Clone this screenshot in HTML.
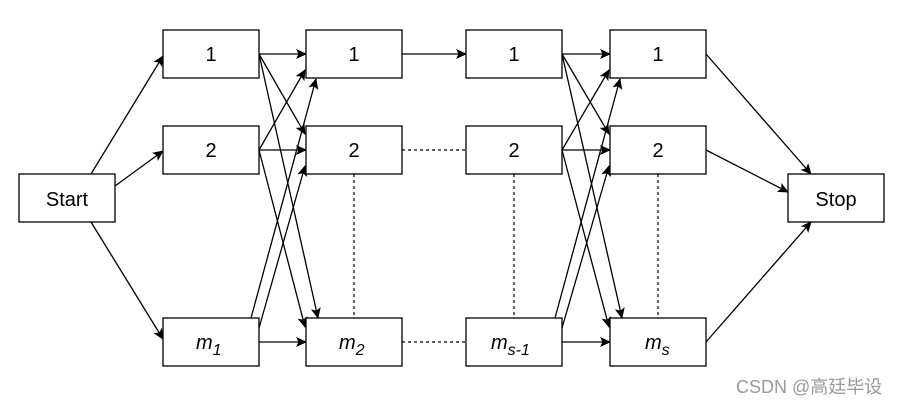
<!DOCTYPE html>
<html><head><meta charset="utf-8"><style>
html,body{margin:0;padding:0;background:#fff;}
svg{display:block;}
text{font-family:"Liberation Sans",Arial,sans-serif;font-size:20px;fill:#000;}
.i{font-style:italic;}
</style></head><body>
<svg width="902" height="403" viewBox="0 0 902 403" xmlns="http://www.w3.org/2000/svg">
<defs>
<marker id="a" markerWidth="11" markerHeight="11" refX="10" refY="5.5" orient="auto" markerUnits="userSpaceOnUse">
<path d="M0,0.5 L11,5.5 L0,10.5 L2.5,5.5 Z" fill="#000"/>
</marker>
</defs>
<g stroke="#000" stroke-width="1.3" fill="none" marker-end="url(#a)">
<line x1="91" y1="174" x2="163" y2="56"/>
<line x1="115" y1="186" x2="163" y2="151"/>
<line x1="91" y1="222" x2="163" y2="339"/>
<line x1="259" y1="54" x2="306" y2="54"/>
<line x1="259" y1="54" x2="305" y2="134"/>
<line x1="259" y1="54" x2="318" y2="318"/>
<line x1="259" y1="150" x2="306" y2="150"/>
<line x1="259" y1="150" x2="305" y2="70"/>
<line x1="259" y1="150" x2="305" y2="327"/>
<line x1="251" y1="318" x2="316" y2="79"/>
<line x1="259" y1="328" x2="305" y2="166"/>
<line x1="259" y1="342" x2="306" y2="342"/>
<line x1="402" y1="54" x2="466" y2="54"/>
<line x1="562" y1="54" x2="610" y2="54"/>
<line x1="562" y1="54" x2="609" y2="134"/>
<line x1="562" y1="54" x2="622" y2="318"/>
<line x1="562" y1="150" x2="610" y2="150"/>
<line x1="562" y1="150" x2="609" y2="70"/>
<line x1="562" y1="150" x2="609" y2="327"/>
<line x1="555" y1="318" x2="620" y2="79"/>
<line x1="562" y1="328" x2="609" y2="166"/>
<line x1="562" y1="342" x2="610" y2="342"/>
<line x1="706" y1="54" x2="811" y2="174"/>
<line x1="706" y1="150" x2="788" y2="192"/>
<line x1="706" y1="342" x2="811" y2="222"/>
</g>
<g stroke="#000" stroke-width="1.2" stroke-dasharray="3,3" fill="none">
<line x1="402" y1="150" x2="466" y2="150"/>
<line x1="402" y1="342" x2="466" y2="342"/>
<line x1="354" y1="174" x2="354" y2="318"/>
<line x1="514" y1="174" x2="514" y2="318"/>
<line x1="658" y1="174" x2="658" y2="318"/>
</g>
<g stroke="#000" stroke-width="1.3" fill="#fff">
<rect x="19" y="174" width="96" height="48"/>
<rect x="163" y="30" width="96" height="48"/>
<rect x="163" y="126" width="96" height="48"/>
<rect x="163" y="318" width="96" height="48"/>
<rect x="306" y="30" width="96" height="48"/>
<rect x="306" y="126" width="96" height="48"/>
<rect x="306" y="318" width="96" height="48"/>
<rect x="466" y="30" width="96" height="48"/>
<rect x="466" y="126" width="96" height="48"/>
<rect x="466" y="318" width="96" height="48"/>
<rect x="610" y="30" width="96" height="48"/>
<rect x="610" y="126" width="96" height="48"/>
<rect x="610" y="318" width="96" height="48"/>
<rect x="788" y="174" width="96" height="48"/>
</g>
<g text-anchor="middle">
<text x="67" y="206">Start</text>
<text x="836" y="206">Stop</text>
<text x="211" y="61">1</text><text x="354" y="61">1</text><text x="514" y="61">1</text><text x="658" y="61">1</text>
<text x="211" y="157">2</text><text x="354" y="157">2</text><text x="514" y="157">2</text><text x="658" y="157">2</text>
</g>
<text class="i" x="196" y="349">m<tspan font-size="16" dy="6">1</tspan></text>
<text class="i" x="339" y="349">m<tspan font-size="16" dy="6">2</tspan></text>
<text class="i" x="491" y="349">m<tspan font-size="16" dy="6">s-1</tspan></text>
<text class="i" x="645" y="349">m<tspan font-size="16" dy="6">s</tspan></text>
<text x="736" y="393" style="font-family:'Liberation Sans','Noto Sans CJK SC',sans-serif;font-size:18px;fill:#999;">CSDN @高廷毕设</text>
</svg>
</body></html>
